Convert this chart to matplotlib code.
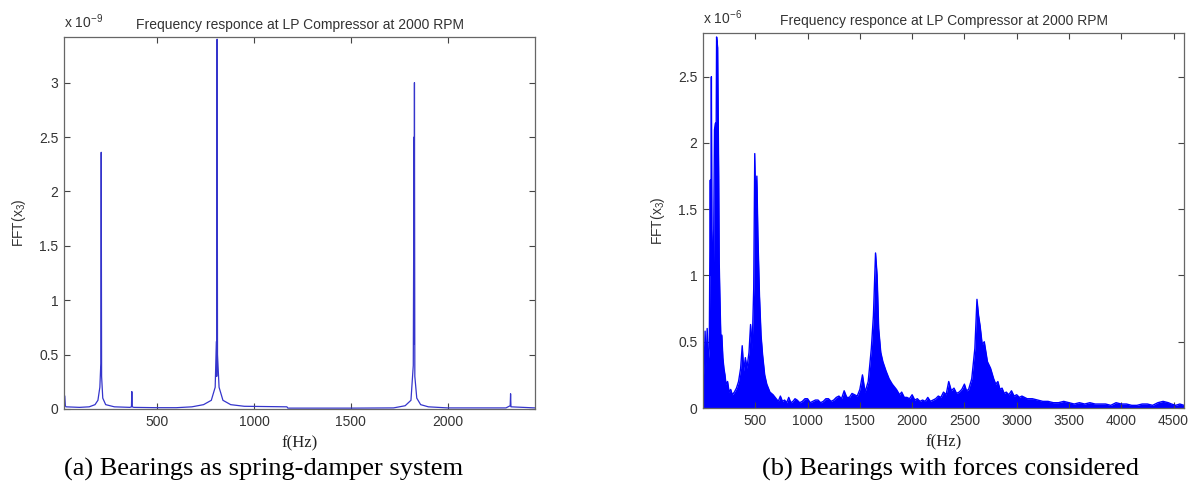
import numpy as np
import matplotlib.pyplot as plt

# (a) spring-damper bearings: FFT amplitude (x 1e-9)
freq_a = [20, 24, 27, 30, 100, 150, 180, 195, 205, 210, 212, 214, 220, 235, 280,
          360, 368, 370, 372, 380, 500, 600, 680, 740, 780, 800, 806, 808, 810,
          812, 820, 840, 880, 950, 1170, 1175, 1500, 1720, 1780, 1810, 1822,
          1826, 1827, 1828, 1830, 1840, 1860, 1900, 1950, 2000, 2300, 2322,
          2324, 2326, 2450]
amp_a = [0.02, 0.12, 0.03, 0.02, 0.015, 0.02, 0.04, 0.08, 0.2, 0.42, 2.36, 0.3,
         0.1, 0.04, 0.02, 0.015, 0.02, 0.16, 0.02, 0.015, 0.012, 0.012, 0.02,
         0.04, 0.08, 0.2, 0.62, 0.3, 3.4, 0.5, 0.2, 0.08, 0.04, 0.025, 0.02,
         0.008, 0.008, 0.01, 0.03, 0.08, 0.4, 2.5, 0.6, 3.0, 0.3, 0.1, 0.04,
         0.02, 0.015, 0.01, 0.01, 0.03, 0.14, 0.02, 0.01]

# (b) bearings with forces: FFT amplitude (x 1e-6), jagged upper envelope
freq_b = [0, 10, 20, 30, 40, 50, 60, 70, 75, 80, 85, 90, 100, 110, 120, 125,
          130, 140, 150, 155, 160, 170, 180, 190, 200, 210, 220, 235, 250, 265,
          280, 300, 320, 340, 360, 375, 390, 405, 420, 440, 455, 470, 485, 495,
          505, 515, 525, 540, 555, 570, 590, 610, 640, 670, 700, 720, 740, 760,
          780, 800, 820, 840, 860, 880, 900, 925, 950, 975, 1000, 1025, 1050,
          1075, 1100, 1125, 1150, 1175, 1200, 1225, 1250, 1275, 1300, 1325,
          1350, 1375, 1400, 1425, 1450, 1475, 1500, 1525, 1550, 1580, 1610,
          1630, 1650, 1665, 1680, 1700, 1720, 1750, 1780, 1810, 1850, 1880,
          1900, 1925, 1950, 1975, 2000, 2025, 2050, 2075, 2100, 2125, 2150,
          2175, 2200, 2225, 2250, 2275, 2300, 2325, 2350, 2375, 2400, 2425,
          2450, 2475, 2500, 2520, 2540, 2570, 2600, 2620, 2635, 2650, 2670,
          2690, 2720, 2750, 2780, 2800, 2820, 2840, 2860, 2880, 2900, 2925,
          2950, 2975, 3000, 3025, 3050, 3100, 3150, 3200, 3250, 3300, 3350,
          3400, 3450, 3500, 3550, 3600, 3650, 3700, 3750, 3800, 3850, 3900,
          3950, 4000, 4050, 4100, 4150, 4200, 4250, 4300, 4350, 4400, 4450,
          4480, 4520, 4560, 4600]
amp_b = [0.55, 0.25, 0.58, 0.3, 0.6, 0.35, 0.45, 1.72, 1.0, 2.5, 1.35, 1.2,
         1.05, 2.1, 2.15, 1.9, 2.8, 2.72, 1.75, 1.1, 0.9, 0.55, 0.55, 0.38, 0.3,
         0.25, 0.18, 0.2, 0.12, 0.14, 0.1, 0.12, 0.15, 0.2, 0.3, 0.47, 0.28,
         0.38, 0.3, 0.42, 0.63, 0.45, 0.9, 1.92, 1.5, 1.75, 1.3, 0.85, 0.55,
         0.4, 0.25, 0.18, 0.12, 0.1, 0.07, 0.05, 0.09, 0.05, 0.06, 0.04, 0.08,
         0.04, 0.05, 0.07, 0.06, 0.04, 0.05, 0.07, 0.07, 0.04, 0.05, 0.06, 0.06,
         0.04, 0.05, 0.07, 0.07, 0.05, 0.06, 0.08, 0.09, 0.07, 0.13, 0.08, 0.08,
         0.11, 0.1, 0.09, 0.14, 0.25, 0.12, 0.2, 0.45, 0.7, 1.17, 1.0, 0.6,
         0.42, 0.35, 0.28, 0.22, 0.18, 0.14, 0.1, 0.12, 0.08, 0.08, 0.07, 0.1,
         0.06, 0.07, 0.05, 0.06, 0.05, 0.08, 0.05, 0.06, 0.07, 0.09, 0.08, 0.12,
         0.1, 0.2, 0.13, 0.15, 0.11, 0.12, 0.14, 0.18, 0.13, 0.14, 0.22, 0.45,
         0.82, 0.7, 0.62, 0.48, 0.5, 0.35, 0.3, 0.22, 0.18, 0.2, 0.14, 0.15,
         0.11, 0.12, 0.1, 0.13, 0.09, 0.1, 0.08, 0.09, 0.07, 0.07, 0.06, 0.05,
         0.05, 0.04, 0.04, 0.05, 0.04, 0.03, 0.04, 0.03, 0.04, 0.03, 0.03, 0.03,
         0.02, 0.04, 0.03, 0.03, 0.02, 0.02, 0.03, 0.03, 0.02, 0.04, 0.05, 0.04,
         0.03, 0.02, 0.03, 0.02]

ticks_a_x = [500, 1000, 1500, 2000]
ticks_a_y = [0, 0.5, 1, 1.5, 2, 2.5, 3]
ticks_b_x = [500, 1000, 1500, 2000, 2500, 3000, 3500, 4000, 4500]
ticks_b_y = [0, 0.5, 1, 1.5, 2, 2.5]

title = "Frequency responce at LP Compressor at 2000 RPM"

plt.rcParams['font.family'] = 'Liberation Sans'
plt.rcParams['mathtext.fontset'] = 'custom'
plt.rcParams['mathtext.rm'] = 'Liberation Sans'
plt.rcParams['mathtext.it'] = 'Liberation Sans:italic'
plt.rcParams['mathtext.default'] = 'regular'

fig = plt.figure(figsize=(11.99, 4.92), dpi=100)
ax1 = fig.add_axes([64 / 1199, 1 - 409 / 492, 471 / 1199, 372 / 492])
ax2 = fig.add_axes([703 / 1199, 1 - 408 / 492, 481 / 1199, 375 / 492])


def style(ax, xt, yt, xlim, ylim, exp):
    ax.set_xlim(*xlim)
    ax.set_ylim(*ylim)
    ax.set_xticks(xt)
    ax.set_yticks(yt)
    ax.set_yticklabels([f"{v:g}" for v in yt])
    ax.tick_params(direction='in', top=True, right=True, length=4, width=0.8,
                   labelsize=10, colors='#444444', labelcolor='#333333', pad=4)
    for s in ax.spines.values():
        s.set_color('#666666')
        s.set_linewidth(0.9)
    ax.set_xlabel("f(Hz)", family='Liberation Serif', fontsize=12,
                  color='#222222', labelpad=5)
    ax.set_ylabel("FFT(x$_{3}$)", fontsize=10, color='#333333', labelpad=8)
    ax.set_title(title, fontsize=10, color='#333333', pad=6)
    ax.text(0.0, 1.015, "x 10$^{%d}$" % exp, transform=ax.transAxes,
            fontsize=10, color='#333333', ha='left', va='bottom')


ax1.plot(freq_a, amp_a, color='#3535cc', lw=0.9)
style(ax1, ticks_a_x, ticks_a_y, (20, 2450), (0, 3.42), -9)

ax2.fill_between(freq_b, 0, amp_b, color='#0000ff', lw=0)
ax2.plot(freq_b, amp_b, color='#0000ff', lw=1.0)
style(ax2, ticks_b_x, ticks_b_y, (0, 4600), (0, 2.83), -6)

fig.text(264 / 1199, 1 - 469 / 492, "(a) Bearings as spring-damper system",
         family='Liberation Serif', fontsize=19, ha='center', va='center')
fig.text(950 / 1199, 1 - 469 / 492, "(b) Bearings with forces considered",
         family='Liberation Serif', fontsize=19, ha='center', va='center')

fig.savefig("out.png", dpi=100)
